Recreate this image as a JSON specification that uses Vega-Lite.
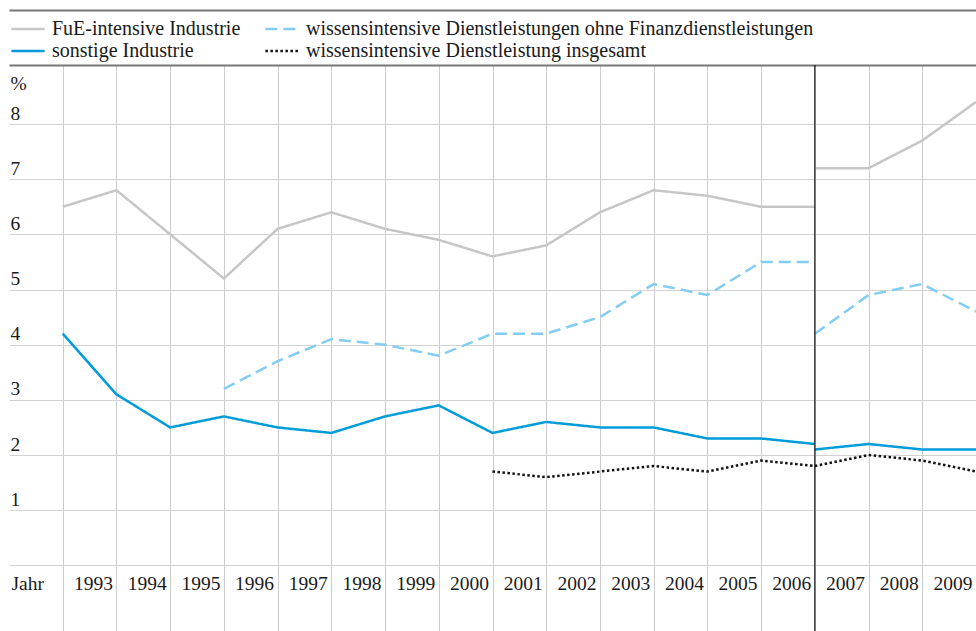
{
  "$schema": "https://vega.github.io/schema/vega-lite/v6.json",
  "width": 967,
  "height": 566,
  "autosize": {"type": "none"},
  "padding": {"left": 9, "top": 65, "right": 0, "bottom": 0},
  "background": "white",
  "config": {"view": {"stroke": null}, "font": "Liberation Serif"},
  "resolve": {"axis": {"x": "independent"}},
  "layer": [
    {
      "data": {
        "values": [
          {"Jahr": 1992, "Wert": 6.5, "Reihe": "FuE-intensive Industrie", "Abschnitt": "alt"},
          {"Jahr": 1993, "Wert": 6.8, "Reihe": "FuE-intensive Industrie", "Abschnitt": "alt"},
          {"Jahr": 1994, "Wert": 6.0, "Reihe": "FuE-intensive Industrie", "Abschnitt": "alt"},
          {"Jahr": 1995, "Wert": 5.2, "Reihe": "FuE-intensive Industrie", "Abschnitt": "alt"},
          {"Jahr": 1996, "Wert": 6.1, "Reihe": "FuE-intensive Industrie", "Abschnitt": "alt"},
          {"Jahr": 1997, "Wert": 6.4, "Reihe": "FuE-intensive Industrie", "Abschnitt": "alt"},
          {"Jahr": 1998, "Wert": 6.1, "Reihe": "FuE-intensive Industrie", "Abschnitt": "alt"},
          {"Jahr": 1999, "Wert": 5.9, "Reihe": "FuE-intensive Industrie", "Abschnitt": "alt"},
          {"Jahr": 2000, "Wert": 5.6, "Reihe": "FuE-intensive Industrie", "Abschnitt": "alt"},
          {"Jahr": 2001, "Wert": 5.8, "Reihe": "FuE-intensive Industrie", "Abschnitt": "alt"},
          {"Jahr": 2002, "Wert": 6.4, "Reihe": "FuE-intensive Industrie", "Abschnitt": "alt"},
          {"Jahr": 2003, "Wert": 6.8, "Reihe": "FuE-intensive Industrie", "Abschnitt": "alt"},
          {"Jahr": 2004, "Wert": 6.7, "Reihe": "FuE-intensive Industrie", "Abschnitt": "alt"},
          {"Jahr": 2005, "Wert": 6.5, "Reihe": "FuE-intensive Industrie", "Abschnitt": "alt"},
          {"Jahr": 2006, "Wert": 6.5, "Reihe": "FuE-intensive Industrie", "Abschnitt": "alt"},
          {"Jahr": 2006, "Wert": 7.2, "Reihe": "FuE-intensive Industrie", "Abschnitt": "neu"},
          {"Jahr": 2007, "Wert": 7.2, "Reihe": "FuE-intensive Industrie", "Abschnitt": "neu"},
          {"Jahr": 2008, "Wert": 7.7, "Reihe": "FuE-intensive Industrie", "Abschnitt": "neu"},
          {"Jahr": 2009, "Wert": 8.4, "Reihe": "FuE-intensive Industrie", "Abschnitt": "neu"},
          {"Jahr": 1995, "Wert": 3.2, "Reihe": "wissensintensive Dienstleistungen ohne Finanzdienstleistungen", "Abschnitt": "alt"},
          {"Jahr": 1996, "Wert": 3.7, "Reihe": "wissensintensive Dienstleistungen ohne Finanzdienstleistungen", "Abschnitt": "alt"},
          {"Jahr": 1997, "Wert": 4.1, "Reihe": "wissensintensive Dienstleistungen ohne Finanzdienstleistungen", "Abschnitt": "alt"},
          {"Jahr": 1998, "Wert": 4.0, "Reihe": "wissensintensive Dienstleistungen ohne Finanzdienstleistungen", "Abschnitt": "alt"},
          {"Jahr": 1999, "Wert": 3.8, "Reihe": "wissensintensive Dienstleistungen ohne Finanzdienstleistungen", "Abschnitt": "alt"},
          {"Jahr": 2000, "Wert": 4.2, "Reihe": "wissensintensive Dienstleistungen ohne Finanzdienstleistungen", "Abschnitt": "alt"},
          {"Jahr": 2001, "Wert": 4.2, "Reihe": "wissensintensive Dienstleistungen ohne Finanzdienstleistungen", "Abschnitt": "alt"},
          {"Jahr": 2002, "Wert": 4.5, "Reihe": "wissensintensive Dienstleistungen ohne Finanzdienstleistungen", "Abschnitt": "alt"},
          {"Jahr": 2003, "Wert": 5.1, "Reihe": "wissensintensive Dienstleistungen ohne Finanzdienstleistungen", "Abschnitt": "alt"},
          {"Jahr": 2004, "Wert": 4.9, "Reihe": "wissensintensive Dienstleistungen ohne Finanzdienstleistungen", "Abschnitt": "alt"},
          {"Jahr": 2005, "Wert": 5.5, "Reihe": "wissensintensive Dienstleistungen ohne Finanzdienstleistungen", "Abschnitt": "alt"},
          {"Jahr": 2006, "Wert": 5.5, "Reihe": "wissensintensive Dienstleistungen ohne Finanzdienstleistungen", "Abschnitt": "alt"},
          {"Jahr": 2006, "Wert": 4.2, "Reihe": "wissensintensive Dienstleistungen ohne Finanzdienstleistungen", "Abschnitt": "neu"},
          {"Jahr": 2007, "Wert": 4.9, "Reihe": "wissensintensive Dienstleistungen ohne Finanzdienstleistungen", "Abschnitt": "neu"},
          {"Jahr": 2008, "Wert": 5.1, "Reihe": "wissensintensive Dienstleistungen ohne Finanzdienstleistungen", "Abschnitt": "neu"},
          {"Jahr": 2009, "Wert": 4.6, "Reihe": "wissensintensive Dienstleistungen ohne Finanzdienstleistungen", "Abschnitt": "neu"},
          {"Jahr": 1992, "Wert": 4.2, "Reihe": "sonstige Industrie", "Abschnitt": "alt"},
          {"Jahr": 1993, "Wert": 3.1, "Reihe": "sonstige Industrie", "Abschnitt": "alt"},
          {"Jahr": 1994, "Wert": 2.5, "Reihe": "sonstige Industrie", "Abschnitt": "alt"},
          {"Jahr": 1995, "Wert": 2.7, "Reihe": "sonstige Industrie", "Abschnitt": "alt"},
          {"Jahr": 1996, "Wert": 2.5, "Reihe": "sonstige Industrie", "Abschnitt": "alt"},
          {"Jahr": 1997, "Wert": 2.4, "Reihe": "sonstige Industrie", "Abschnitt": "alt"},
          {"Jahr": 1998, "Wert": 2.7, "Reihe": "sonstige Industrie", "Abschnitt": "alt"},
          {"Jahr": 1999, "Wert": 2.9, "Reihe": "sonstige Industrie", "Abschnitt": "alt"},
          {"Jahr": 2000, "Wert": 2.4, "Reihe": "sonstige Industrie", "Abschnitt": "alt"},
          {"Jahr": 2001, "Wert": 2.6, "Reihe": "sonstige Industrie", "Abschnitt": "alt"},
          {"Jahr": 2002, "Wert": 2.5, "Reihe": "sonstige Industrie", "Abschnitt": "alt"},
          {"Jahr": 2003, "Wert": 2.5, "Reihe": "sonstige Industrie", "Abschnitt": "alt"},
          {"Jahr": 2004, "Wert": 2.3, "Reihe": "sonstige Industrie", "Abschnitt": "alt"},
          {"Jahr": 2005, "Wert": 2.3, "Reihe": "sonstige Industrie", "Abschnitt": "alt"},
          {"Jahr": 2006, "Wert": 2.2, "Reihe": "sonstige Industrie", "Abschnitt": "alt"},
          {"Jahr": 2006, "Wert": 2.1, "Reihe": "sonstige Industrie", "Abschnitt": "neu"},
          {"Jahr": 2007, "Wert": 2.2, "Reihe": "sonstige Industrie", "Abschnitt": "neu"},
          {"Jahr": 2008, "Wert": 2.1, "Reihe": "sonstige Industrie", "Abschnitt": "neu"},
          {"Jahr": 2009, "Wert": 2.1, "Reihe": "sonstige Industrie", "Abschnitt": "neu"},
          {"Jahr": 2000, "Wert": 1.7, "Reihe": "wissensintensive Dienstleistung insgesamt", "Abschnitt": "alt"},
          {"Jahr": 2001, "Wert": 1.6, "Reihe": "wissensintensive Dienstleistung insgesamt", "Abschnitt": "alt"},
          {"Jahr": 2002, "Wert": 1.7, "Reihe": "wissensintensive Dienstleistung insgesamt", "Abschnitt": "alt"},
          {"Jahr": 2003, "Wert": 1.8, "Reihe": "wissensintensive Dienstleistung insgesamt", "Abschnitt": "alt"},
          {"Jahr": 2004, "Wert": 1.7, "Reihe": "wissensintensive Dienstleistung insgesamt", "Abschnitt": "alt"},
          {"Jahr": 2005, "Wert": 1.9, "Reihe": "wissensintensive Dienstleistung insgesamt", "Abschnitt": "alt"},
          {"Jahr": 2006, "Wert": 1.8, "Reihe": "wissensintensive Dienstleistung insgesamt", "Abschnitt": "alt"},
          {"Jahr": 2006, "Wert": 1.8, "Reihe": "wissensintensive Dienstleistung insgesamt", "Abschnitt": "neu"},
          {"Jahr": 2007, "Wert": 2.0, "Reihe": "wissensintensive Dienstleistung insgesamt", "Abschnitt": "neu"},
          {"Jahr": 2008, "Wert": 1.9, "Reihe": "wissensintensive Dienstleistung insgesamt", "Abschnitt": "neu"},
          {"Jahr": 2009, "Wert": 1.7, "Reihe": "wissensintensive Dienstleistung insgesamt", "Abschnitt": "neu"}
        ]
      },
      "mark": {"type": "line", "strokeWidth": 2.5},
      "encoding": {
        "x": {
          "field": "Jahr",
          "type": "quantitative",
          "scale": {"domain": [1991, 2009], "nice": false, "zero": false},
          "axis": {
            "orient": "top",
            "offset": 0,
            "title": null,
            "values": [1991, 1992, 1993, 1994, 1995, 1996, 1997, 1998, 1999, 2000, 2001, 2002, 2003, 2004, 2005, 2006, 2007, 2008, 2009],
            "format": "d",
            "labelExpr": "datum.value == 1991 ? 'Jahr' : (datum.value == 1992 ? '' : datum.label)",
            "domain": true,
            "domainColor": "#777777",
            "domainWidth": 2,
            "ticks": false,
            "tickSize": 0,
            "labelPadding": -518,
            "labelBaseline": "middle",
            "labelAlign": {"condition": {"test": "datum.value == 1991", "value": "left"}, "value": "right"},
            "labelOffset": {"condition": {"test": "datum.value == 1991", "value": 2}, "value": -4},
            "labelFlush": false,
            "labelOverlap": false,
            "labelFont": "Liberation Serif",
            "labelFontSize": 19.5,
            "labelColor": "#1a1a1a",
            "grid": true,
            "gridColor": {"condition": {"test": "datum.value == 1991", "value": "transparent"}, "value": "#cccccc"},
            "gridWidth": 1
          }
        },
        "y": {
          "field": "Wert",
          "type": "quantitative",
          "scale": {"domain": [-1.19, 9.07], "nice": false, "zero": false},
          "axis": {
            "orient": "left",
            "values": [0, 1, 2, 3, 4, 5, 6, 7, 8],
            "labelExpr": "datum.value == 0 ? '' : datum.label",
            "domain": false,
            "ticks": false,
            "tickSize": 0,
            "labelPadding": -1,
            "labelAlign": "left",
            "labelBaseline": "alphabetic",
            "labelOffset": -5,
            "labelFlush": false,
            "labelOverlap": false,
            "labelFont": "Liberation Serif",
            "labelFontSize": 19.5,
            "labelColor": "#1a1a1a",
            "grid": true,
            "gridColor": "#d2d2d2",
            "gridWidth": 1,
            "title": "%",
            "titleAngle": 0,
            "titleX": 1,
            "titleY": 18,
            "titleAlign": "left",
            "titleBaseline": "middle",
            "titleFont": "Liberation Serif",
            "titleFontSize": 19.5,
            "titleFontWeight": "normal",
            "titleColor": "#1a1a1a"
          }
        },
        "color": {
          "field": "Reihe",
          "type": "nominal",
          "scale": {
            "domain": ["FuE-intensive Industrie", "sonstige Industrie", "wissensintensive Dienstleistungen ohne Finanzdienstleistungen", "wissensintensive Dienstleistung insgesamt"],
            "range": ["#c6c6c6", "#009bd9", "#82cdf1", "#111111"]
          },
          "legend": {
            "title": null,
            "orient": "none",
            "legendX": 9,
            "legendY": -46,
            "columns": 2,
            "symbolType": "M-2,0H2",
            "symbolSize": 275,
            "symbolStrokeWidth": 2.5,
            "labelFont": "Liberation Serif",
            "labelFontSize": 20,
            "labelColor": "#1a1a1a",
            "labelLimit": 800,
            "labelOffset": 14,
            "columnPadding": 19,
            "rowPadding": 2,
            "padding": 0
          }
        },
        "strokeDash": {
          "field": "Reihe",
          "type": "nominal",
          "scale": {
            "domain": ["FuE-intensive Industrie", "sonstige Industrie", "wissensintensive Dienstleistungen ohne Finanzdienstleistungen", "wissensintensive Dienstleistung insgesamt"],
            "range": [[1, 0], [1, 0], [12, 6], [2.5, 2.5]]
          },
          "legend": {
            "title": null,
            "orient": "none",
            "legendX": 9,
            "legendY": -46,
            "columns": 2,
            "symbolType": "M-2,0H2",
            "symbolSize": 275,
            "symbolStrokeWidth": 2.5,
            "labelFont": "Liberation Serif",
            "labelFontSize": 20,
            "labelColor": "#1a1a1a",
            "labelLimit": 800,
            "labelOffset": 14,
            "columnPadding": 19,
            "rowPadding": 2,
            "padding": 0
          }
        },
        "detail": {"field": "Abschnitt", "type": "nominal"}
      }
    },
    {
      "data": {"values": [{"Bruch": 2006}]},
      "mark": {"type": "rule", "color": "#111111", "strokeWidth": 1.2},
      "encoding": {
        "x": {
          "field": "Bruch",
          "type": "quantitative",
          "scale": {"domain": [1991, 2009], "nice": false, "zero": false},
          "axis": {
            "orient": "bottom",
            "offset": -621,
            "title": null,
            "domain": true,
            "domainColor": "#777777",
            "domainWidth": 2,
            "ticks": false,
            "labels": false,
            "grid": false
          }
        }
      }
    }
  ]
}
